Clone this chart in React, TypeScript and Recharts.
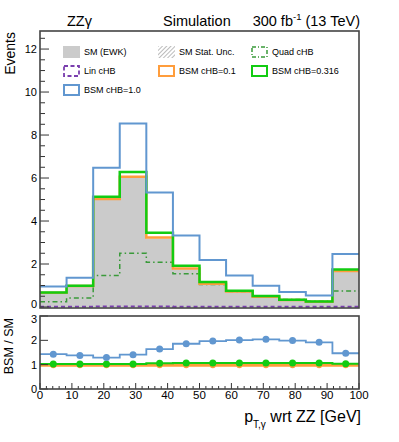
import * as React from 'react';
import { ComposedChart, Area, Line, Scatter, XAxis, YAxis } from 'recharts';

// bin edges and centres of p_T,gamma (GeV)
const binEdges = [0, 8.33, 16.67, 25, 33.33, 41.67, 50, 58.33, 66.67, 75, 83.33, 91.67, 100];
const binCenters = [4.17, 12.5, 20.83, 29.17, 37.5, 45.83, 54.17, 62.5, 70.83, 79.17, 87.5, 95.83];

// events per bin
const smEwk = [0.65, 0.97, 4.98, 6.01, 3.19, 1.76, 1.06, 0.71, 0.47, 0.31, 0.23, 1.66];
const linCHB = [0.01, 0.01, 0.02, 0.02, 0.02, 0.01, 0.01, 0.01, 0.01, 0.01, 0.01, 0.01];
const quadCHB = [0.25, 0.42, 1.47, 2.5, 2.08, 1.55, 1.05, 0.72, 0.48, 0.35, 0.27, 0.74];
const bsm01 = [0.66, 0.98, 5.02, 6.06, 3.23, 1.79, 1.08, 0.72, 0.48, 0.32, 0.24, 1.68];
const bsm0316 = [0.67, 0.99, 5.13, 6.28, 3.46, 1.92, 1.16, 0.76, 0.51, 0.34, 0.26, 1.75];
const bsm10 = [0.95, 1.36, 6.48, 8.54, 5.33, 3.33, 2.19, 1.46, 0.99, 0.7, 0.53, 2.47];

// BSM / SM ratios
const ratio01 = [0.98, 0.98, 0.98, 0.98, 0.98, 0.98, 0.98, 0.98, 0.98, 0.98, 0.98, 0.98];
const ratio0316 = [1.03, 1.03, 1.03, 1.03, 1.06, 1.07, 1.07, 1.07, 1.07, 1.07, 1.07, 1.04];
const ratio10 = [1.43, 1.38, 1.29, 1.41, 1.64, 1.86, 1.97, 2.01, 2.04, 1.99, 1.92, 1.47];

// tick labels
const xLabels = [0, 10, 20, 30, 40, 50, 60, 70, 80, 90, 100];
const yLabelsUpper = [0, 2, 4, 6, 8, 10, 12];
const yLabelsLower = [0, 1, 2, 3];

const C_GRAY = '#cbcbcb';
const C_BLUE = '#6197d0';
const C_ORANGE = '#ff9d3c';
const C_GREEN = '#12cc12';
const C_QUAD = '#3a9a3a';
const C_PURPLE = '#7a3fae';
const AX = '#333';
const FONT = '"Liberation Sans", Arial, Helvetica, sans-serif';

const pick = (arr: number[], i: number) => arr[Math.min(i, arr.length - 1)];

const upperRows = binEdges.map((x, i) => ({
  x,
  sm: pick(smEwk, i),
  lin: pick(linCHB, i),
  quad: pick(quadCHB, i),
  b01: pick(bsm01, i),
  b0316: pick(bsm0316, i),
  b10: pick(bsm10, i),
}));

const lowerRows = binEdges.map((x, i) => ({
  x,
  r01: pick(ratio01, i),
  r0316: pick(ratio0316, i),
  r10: pick(ratio10, i),
}));

const pts = (arr: number[]) => binCenters.map((x, i) => ({ x, r: arr[i] }));

const minorX = Array.from({ length: 51 }, (_, i) => i * 2);
const minorYUpper = Array.from({ length: 26 }, (_, i) => i * 0.5);

const xTickUpper = (props: any) => {
  const { x, y, payload } = props;
  const major = xLabels.includes(payload.value);
  return <line x1={x} x2={x} y1={y} y2={y - (major ? 8 : 4)} stroke={AX} strokeWidth={1} />;
};

const xTickLower = (props: any) => {
  const { x, y, payload } = props;
  const major = xLabels.includes(payload.value);
  return (
    <g>
      <line x1={x} x2={x} y1={y} y2={y - (major ? 6 : 3)} stroke={AX} strokeWidth={1} />
      {major && (
        <text x={x} y={y + 2} dy="0.71em" textAnchor="middle" fontSize={11.5} fill="#000" fontFamily={FONT}>
          {payload.value}
        </text>
      )}
    </g>
  );
};

const yTickUpper = (props: any) => {
  const { x, y, payload } = props;
  const major = yLabelsUpper.includes(payload.value);
  // the bottom "0" sits partly under the ratio pad, lift it a little
  const dy = payload.value === 0 ? '0.05em' : '0.36em';
  return (
    <g>
      <line x1={x} x2={x + (major ? 9 : 5)} y1={y} y2={y} stroke={AX} strokeWidth={1} />
      {major && (
        <text x={x - 3} y={y} dy={dy} textAnchor="end" fontSize={11} fill="#000" fontFamily={FONT}>
          {payload.value}
        </text>
      )}
    </g>
  );
};

const yTickLower = (props: any) => {
  const { x, y, payload } = props;
  const dy = payload.value === 3 ? '0.6em' : '0.36em';
  return (
    <g>
      <line x1={x} x2={x + 8} y1={y} y2={y} stroke={AX} strokeWidth={1} />
      <text x={x - 3} y={y} dy={dy} textAnchor="end" fontSize={11} fill="#000" fontFamily={FONT}>
        {payload.value}
      </text>
    </g>
  );
};

const dot = (color: string, r: number) => (p: any) => <circle cx={p.cx} cy={p.cy} r={r} fill={color} />;

type LegendItem = { label: string; col: number; row: number; kind: string };
const legendItems: LegendItem[] = [
  { label: 'SM (EWK)', col: 0, row: 0, kind: 'fill' },
  { label: 'SM Stat. Unc.', col: 1, row: 0, kind: 'hatch' },
  { label: 'Quad cHB', col: 2, row: 0, kind: 'quad' },
  { label: 'Lin cHB', col: 0, row: 1, kind: 'lin' },
  { label: 'BSM cHB=0.1', col: 1, row: 1, kind: 'b01' },
  { label: 'BSM cHB=0.316', col: 2, row: 1, kind: 'b0316' },
  { label: 'BSM cHB=1.0', col: 0, row: 2, kind: 'b10' },
];
const legendColX = [63, 158, 251];
const legendRowY = [52, 71, 90];

const legendBox = (kind: string, x: number, yc: number) => {
  const y = yc - 6;
  const w = 17;
  const h = 12;
  switch (kind) {
    case 'fill':
      return <rect x={x} y={y} width={w} height={h} fill={C_GRAY} />;
    case 'hatch':
      return <rect x={x} y={y} width={w} height={h} fill="url(#hatch)" />;
    case 'quad':
      return <rect x={x + 1} y={y + 1} width={w - 2} height={h - 2} fill="none" stroke={C_QUAD} strokeWidth={1.5} strokeDasharray="4 2 1 2" />;
    case 'lin':
      return <rect x={x + 1} y={y + 1} width={w - 2} height={h - 2} fill="none" stroke={C_PURPLE} strokeWidth={1.8} strokeDasharray="4 2.5" />;
    case 'b01':
      return <rect x={x + 1} y={y + 1} width={w - 2} height={h - 2} fill="none" stroke={C_ORANGE} strokeWidth={2} />;
    case 'b0316':
      return <rect x={x + 1} y={y + 1} width={w - 2} height={h - 2} fill="none" stroke={C_GREEN} strokeWidth={2} />;
    default:
      return <rect x={x + 1} y={y + 1} width={w - 2} height={h - 2} fill="none" stroke={C_BLUE} strokeWidth={2} />;
  }
};

export default function App() {
  return (
    <div style={{ position: 'absolute', left: 0, top: 0, width: 399, height: 442, background: '#fff', fontFamily: FONT }}>
      <div style={{ position: 'absolute', left: 0, top: 0 }}>
        <ComposedChart width={399} height={320} data={upperRows} margin={{ top: 31, right: 40, left: 0, bottom: 13 }}>
          <XAxis
            dataKey="x"
            type="number"
            domain={[0, 100]}
            ticks={minorX}
            interval={0}
            height={0}
            tickSize={0}
            tickMargin={0}
            axisLine={false}
            tickLine={false}
            tick={xTickUpper}
          />
          <YAxis
            type="number"
            domain={[0, 12.84]}
            ticks={minorYUpper}
            interval={0}
            width={40}
            tickSize={0}
            tickMargin={0}
            axisLine={false}
            tickLine={false}
            tick={yTickUpper}
          />
          <Area dataKey="sm" type="stepAfter" fill={C_GRAY} fillOpacity={1} stroke="none" isAnimationActive={false} />
          <Line dataKey="quad" type="stepAfter" stroke={C_QUAD} strokeWidth={1.5} strokeDasharray="5 3 1.5 3" dot={false} isAnimationActive={false} />
          <Line dataKey="b01" type="stepAfter" stroke={C_ORANGE} strokeWidth={2.5} dot={false} isAnimationActive={false} />
          <Line dataKey="b0316" type="stepAfter" stroke={C_GREEN} strokeWidth={2.5} dot={false} isAnimationActive={false} />
          <Line dataKey="b10" type="stepAfter" stroke={C_BLUE} strokeWidth={2} dot={false} isAnimationActive={false} />
          <Line dataKey="lin" type="stepAfter" stroke={C_PURPLE} strokeWidth={2} strokeDasharray="4 3" dot={false} isAnimationActive={false} />
        </ComposedChart>
      </div>

      <div style={{ position: 'absolute', left: 0, top: 310, background: '#fff' }}>
        <ComposedChart width={399} height={100} data={lowerRows} margin={{ top: 6, right: 40, left: 0, bottom: 0 }}>
          <XAxis
            dataKey="x"
            type="number"
            domain={[0, 100]}
            ticks={minorX}
            interval={0}
            height={21}
            tickSize={0}
            tickMargin={0}
            axisLine={false}
            tickLine={false}
            tick={xTickLower}
          />
          <YAxis
            type="number"
            domain={[0, 3]}
            ticks={yLabelsLower}
            interval={0}
            width={40}
            tickSize={0}
            tickMargin={0}
            axisLine={false}
            tickLine={false}
            tick={yTickLower}
          />
          <Line dataKey="r01" type="stepAfter" stroke={C_ORANGE} strokeWidth={3} dot={false} isAnimationActive={false} />
          <Line dataKey="r0316" type="stepAfter" stroke={C_GREEN} strokeWidth={2} dot={false} isAnimationActive={false} />
          <Line dataKey="r10" type="stepAfter" stroke={C_BLUE} strokeWidth={1.8} dot={false} isAnimationActive={false} />
          <Scatter data={pts(ratio01)} dataKey="r" shape={dot(C_ORANGE, 3)} isAnimationActive={false} />
          <Scatter data={pts(ratio0316)} dataKey="r" shape={dot(C_GREEN, 3.5)} isAnimationActive={false} />
          <Scatter data={pts(ratio10)} dataKey="r" shape={dot(C_BLUE, 3.5)} isAnimationActive={false} />
        </ComposedChart>
      </div>

      <svg width={399} height={442} style={{ position: 'absolute', left: 0, top: 0, pointerEvents: 'none' }} fontFamily={FONT}>
        <defs>
          <pattern id="hatch" width="3" height="3" patternUnits="userSpaceOnUse" patternTransform="rotate(45)">
            <line x1="0" y1="0" x2="0" y2="3" stroke="#777" strokeWidth="1" />
          </pattern>
        </defs>

        {/* pad frames */}
        <rect x={40} y={31} width={319} height={277} fill="none" stroke="#444" strokeWidth={1.6} />
        <rect x={40} y={316} width={319} height={73} fill="none" stroke="#444" strokeWidth={1.6} />

        {/* header */}
        <text x={67} y={26} fontSize={14.5} fill="#000">ZZγ</text>
        <text x={163} y={26} fontSize={14.5} fill="#000">Simulation</text>
        <text x={360} y={26} fontSize={14.5} fill="#000" textAnchor="end">
          300 fb
          <tspan fontSize={9.5} dy={-6}>-1</tspan>
          <tspan dy={6}> (13 TeV)</tspan>
        </text>

        {/* axis titles */}
        <text transform="translate(15,32) rotate(-90)" textAnchor="end" fontSize={14} fill="#000">Events</text>
        <text transform="translate(13,318) rotate(-90)" textAnchor="end" fontSize={12.5} fill="#000">BSM / SM</text>
        <text x={361} y={422} textAnchor="end" fontSize={16} fill="#000">
          p
          <tspan fontSize={10} dy={6}>T,γ</tspan>
          <tspan dy={-6}> wrt ZZ [GeV]</tspan>
        </text>

        {/* legend */}
        {legendItems.map((it) => (
          <g key={it.label}>
            {legendBox(it.kind, legendColX[it.col], legendRowY[it.row])}
            <text x={legendColX[it.col] + 21} y={legendRowY[it.row]} dy="0.35em" fontSize={9} fill="#000">
              {it.label}
            </text>
          </g>
        ))}
      </svg>
    </div>
  );
}
